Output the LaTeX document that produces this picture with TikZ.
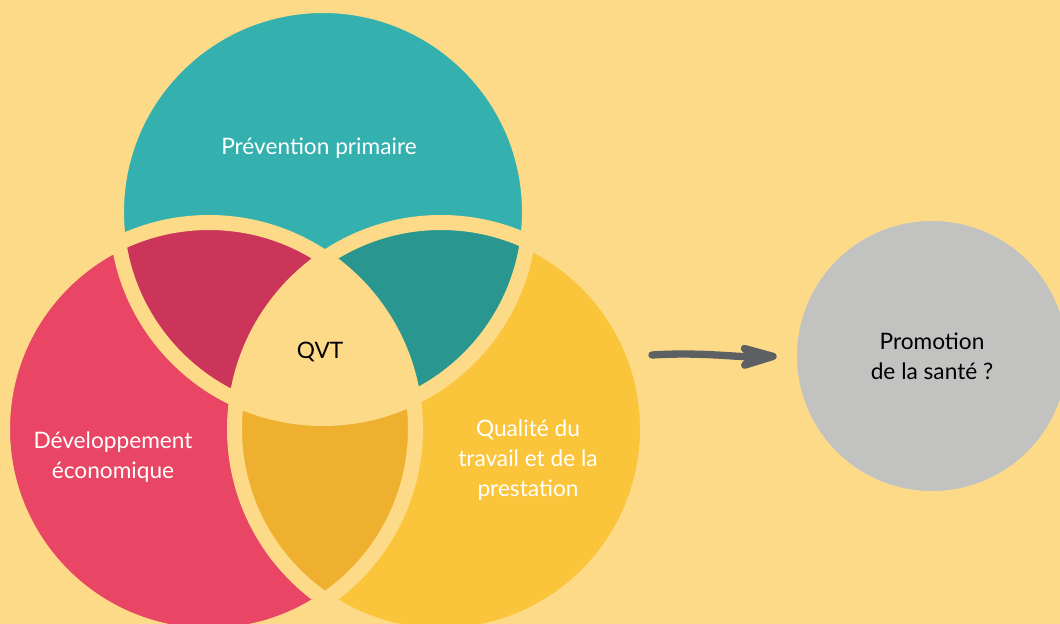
\documentclass[tikz,border=0pt]{standalone}
\usepackage{fontspec}
\setmainfont{Lato}
\usetikzlibrary{arrows.meta,positioning}

\definecolor{bgyellow}{HTML}{FDDA88}
\definecolor{tealc}{HTML}{34B1AE}
\definecolor{redc}{HTML}{E84664}
\definecolor{yellowc}{HTML}{FAC53A}
\definecolor{darkred}{HTML}{CA3559}
\definecolor{darkteal}{HTML}{2A9690}
\definecolor{darkyellow}{HTML}{EFB02F}
\definecolor{greyc}{HTML}{C2C3C1}
\definecolor{arrowgrey}{HTML}{5C6062}

\begin{document}
\begin{tikzpicture}[x=0.75pt,y=-0.75pt,
  every node/.style={font=\fontsize{17}{22.5}\selectfont,align=center},
  blob/.style={circle,inner sep=0pt,minimum size=309.75pt},
  whitetext/.style={text=white},
  ring/.style={draw=bgyellow,line width=11.25pt},
  arrowline/.style={draw=arrowgrey,line width=5.5pt,line cap=round,
    -{Stealth[length=40pt,width=23pt,inset=11pt,round]},shorten >=15pt}]
  % background
  \useasboundingbox (0,0) rectangle (1060,624);
  \fill[bgyellow] (0,0) rectangle (1060,624);

  % the three circles
  \node[blob,fill=tealc] (prev) at (323,212) {};
  \node[blob,fill=redc] (dev) at (209,429) {};
  \node[blob,fill=yellowc] (qual) at (441,429) {};

  % overlaps
  \begin{scope}
    \clip (prev.center) circle[radius=206.5];
    \fill[darkred] (dev.center) circle[radius=206.5];
    \fill[darkteal] (qual.center) circle[radius=206.5];
  \end{scope}
  \begin{scope}
    \clip (dev.center) circle[radius=206.5];
    \fill[darkyellow] (qual.center) circle[radius=206.5];
    \clip (qual.center) circle[radius=206.5];
    \fill[bgyellow] (prev.center) circle[radius=206.5];
  \end{scope}
  \foreach \c in {prev,dev,qual}
    \draw[ring] (\c.center) circle[radius=206.5];

  % labels
  \node[whitetext] (prevtext) at (319,148) {Prévention primaire};
  \node[whitetext] (devtext) at (113,457) {Développement\\économique};
  \node[whitetext] (qualtext) at (528,460) {Qualité du\\travail et de la\\prestation};
  \node (qvt) at (320,352) {QVT};

  % promotion
  \node[circle,inner sep=0pt,minimum size=202.5pt,fill=greyc] (promo) at (932,356) {Promotion\\de la santé ?};
  \coordinate (arrowtail) at (652,355);
  \draw[arrowline] (arrowtail) .. controls (700,352) and (735,357) .. (promo.west);
\end{tikzpicture}
\end{document}
